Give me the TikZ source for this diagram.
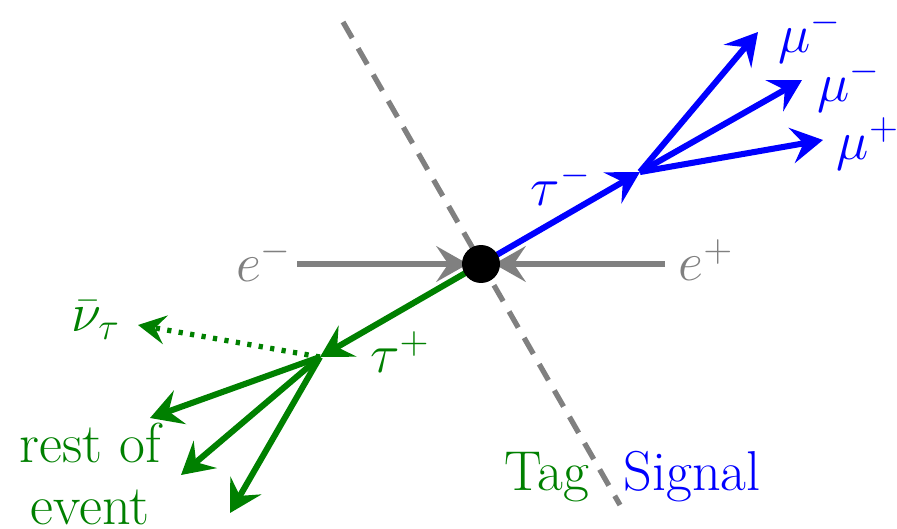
\documentclass[tikz,border=0pt]{standalone}
\usetikzlibrary{arrows.meta}
\definecolor{tagg}{RGB}{0,128,0}
\definecolor{sigb}{RGB}{0,0,255}
\definecolor{beamg}{RGB}{128,128,128}
\begin{document}
\begin{tikzpicture}[x=0.379pt,y=-0.379pt,
  every node/.style={font=\fontsize{21.3}{25}\selectfont, inner sep=0pt},
  arr/.style={line width=2.3pt, -{Stealth[length=12pt,width=13.5pt,inset=4.5pt]}},
  beam/.style={arr, draw=beamg},
  sig/.style={arr, draw=sigb},
  tagarr/.style={arr, draw=tagg},
  dotarr/.style={draw=tagg, line width=2pt, dash pattern=on 1.6pt off 2.8pt, -{Stealth[length=10.5pt,width=11pt,inset=4pt]}},
  cut/.style={draw=beamg, line width=2pt, dash pattern=on 7pt off 4.5pt}]
\useasboundingbox (0,0) rectangle (897,529);
% cut line
\coordinate (ctop) at (343,22);
\coordinate (cbot) at (620,505);
\draw[cut] (ctop) -- (cbot);
% points
\coordinate (C) at (481,264);
\coordinate (T) at (640,172);
\coordinate (G) at (320,357);
\coordinate (eml) at (297,264);
\coordinate (emt) at (468,264);
\coordinate (epl) at (665,264);
\coordinate (ept) at (494,264);
\coordinate (m1) at (758,32);
\coordinate (m2) at (802,80);
\coordinate (m3) at (823,140);
\coordinate (nu) at (138,325);
\coordinate (r1) at (150,418);
\coordinate (r2) at (181,475);
\coordinate (r3) at (230,513);
% beams
\draw[beam] (eml) -- (emt);
\draw[beam] (epl) -- (ept);
% signal
\draw[sig] (C) -- (T);
\draw[sig] (T) -- (m1);
\draw[sig] (T) -- (m2);
\draw[sig] (T) -- (m3);
% tag
\draw[tagarr] (C) -- (G);
\draw[dotarr] (G) -- (nu);
\draw[tagarr] (G) -- (r1);
\draw[tagarr] (G) -- (r2);
\draw[tagarr] (G) -- (r3);
% vertex
\node[circle, fill=black, minimum size=14.4pt] (V) at (C) {};
% labels
\node[text=beamg] (lem) at (264,260) {$e^-$};
\node[text=beamg] (lep) at (706,260) {$e^+$};
\node[text=sigb] (ltm) at (561,184) {$\tau^-$};
\node[text=sigb] (lm1) at (810,37) {$\mu^-$};
\node[text=sigb] (lm2) at (849,86) {$\mu^-$};
\node[text=sigb] (lm3) at (868,144) {$\mu^+$};
\node[text=tagg] (ltp) at (400,352) {$\tau^+$};
\node[text=tagg] (lnu) at (96,320) {$\bar\nu_\tau$};
\node[text=tagg, align=center, font=\fontsize{21.3}{23.5}\selectfont] (lrest) at (90,474) {rest of\\event};
\node[text=tagg] (ltag) at (547,477) {Tag};
\node[text=sigb] (lsig) at (692,477) {Signal};
\end{tikzpicture}
\end{document}
